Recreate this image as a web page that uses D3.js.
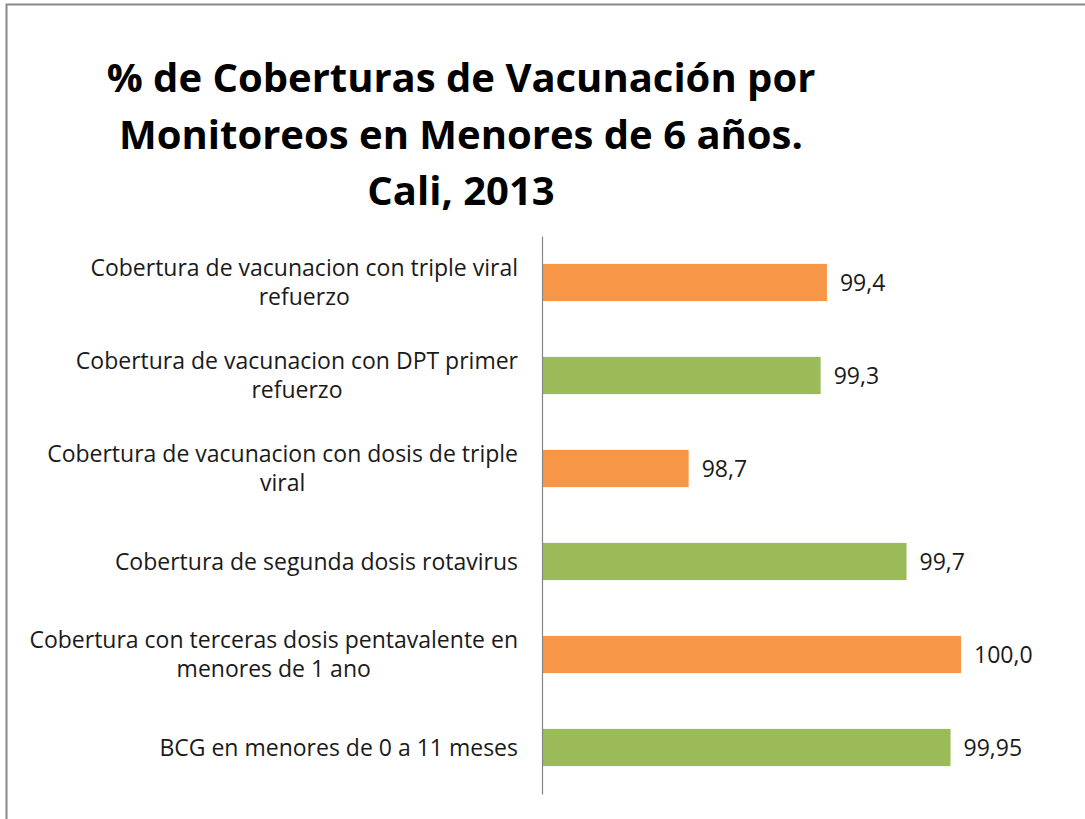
<!DOCTYPE html>
<html>
<head>
<meta charset="utf-8">
<script src="https://cdn.jsdelivr.net/npm/d3@7"></script>
<style>
  html, body { margin: 0; padding: 0; background: #fff; }
  svg { display: block; }
</style>
</head>
<body>
<div id="container"></div>
<script>
const categories = [
  "Cobertura de vacunacion con triple viral refuerzo",
  "Cobertura de vacunacion con DPT primer refuerzo",
  "Cobertura de vacunacion con dosis de triple viral",
  "Cobertura de segunda dosis rotavirus",
  "Cobertura con terceras dosis pentavalente en menores de 1 ano",
  "BCG en menores de 0 a 11 meses",
];
const values = [99.36, 99.33, 98.7, 99.74, 100.0, 99.95];
const valueLabels = ["99,4", "99,3", "98,7", "99,7", "100,0", "99,95"];
const barColors = ["#F79646", "#9BBB59", "#F79646", "#9BBB59", "#F79646", "#9BBB59"];
const titleLines = [
  "% de Coberturas de Vacunación por",
  "Monitoreos en Menores de 6 años.",
  "Cali, 2013",
];

const width = 1085;
const height = 819;
const margin = { top: 236, right: 82, bottom: 25, left: 542 };

const svg = d3.select("#container").append("svg")
  .attr("width", width)
  .attr("height", height);

// chart border (only top and left are visible in the frame)
svg.append("rect")
  .attr("x", 6.5)
  .attr("y", 4.5)
  .attr("width", width + 20)
  .attr("height", height + 20)
  .attr("fill", "none")
  .attr("stroke", "#888")
  .attr("stroke-width", 2);

// title
svg.append("g")
  .selectAll("text")
  .data(titleLines)
  .join("text")
  .attr("x", 461)
  .attr("y", (d, i) => 92 + i * 56.5)
  .attr("text-anchor", "middle")
  .attr("font-family", "'Open Sans', sans-serif")
  .attr("font-weight", 700)
  .attr("font-size", 40)
  .attr("fill", "#000")
  .text((d) => d);

const x = d3.scaleLinear()
  .domain([98, 100.2])
  .range([margin.left, margin.left + 2.2 * 209.5]);

const y = d3.scaleBand()
  .domain(categories)
  .range([margin.top, height - margin.bottom])
  .paddingInner(0.6)
  .paddingOuter(0.3);

const labelFont = "'Open Sans', sans-serif";
const labelSize = 23;

// bars
svg.append("g")
  .selectAll("rect")
  .data(categories)
  .join("rect")
  .attr("x", x(98))
  .attr("y", (d) => y(d))
  .attr("width", (d, i) => x(values[i]) - x(98))
  .attr("height", y.bandwidth())
  .attr("fill", (d, i) => barColors[i]);

// value labels
svg.append("g")
  .selectAll("text")
  .data(categories)
  .join("text")
  .attr("x", (d, i) => x(values[i]) + 13)
  .attr("y", (d) => y(d) + y.bandwidth() / 2)
  .attr("dy", "0.35em")
  .attr("font-family", labelFont)
  .attr("font-size", labelSize)
  .attr("fill", "#1a1a1a")
  .text((d, i) => valueLabels[i]);

// vertical axis line with wrapped category labels
const yAxis = d3.axisLeft(y).tickSize(0).tickPadding(24);
const axisG = svg.append("g")
  .attr("transform", `translate(${margin.left},0)`)
  .call(yAxis);
axisG.select(".domain")
  .attr("stroke", "#868686")
  .attr("stroke-width", 1.2);

axisG.selectAll(".tick text")
  .attr("font-family", labelFont)
  .attr("font-size", labelSize)
  .attr("fill", "#1a1a1a")
  .call(wrap, 505);

function wrap(texts, maxWidth) {
  texts.each(function () {
    const text = d3.select(this);
    const words = text.text().split(/\s+/);
    text.text(null);
    const lines = [];
    let line = [];
    const probe = text.append("tspan");
    words.forEach((w) => {
      line.push(w);
      probe.text(line.join(" "));
      if (probe.node().getComputedTextLength() > maxWidth && line.length > 1) {
        line.pop();
        lines.push(line.join(" "));
        line = [w];
      }
    });
    lines.push(line.join(" "));
    probe.remove();
    const lh = 29.5;
    const widths = lines.map((l) => {
      const t = text.append("tspan").text(l);
      const wdt = t.node().getComputedTextLength();
      t.remove();
      return wdt;
    });
    const blockW = d3.max(widths);
    const tx = +text.attr("x");
    text.attr("text-anchor", "middle");
    lines.forEach((l, i) => {
      text.append("tspan")
        .attr("x", tx - blockW / 2)
        .attr("y", (i - (lines.length - 1) / 2) * lh)
        .attr("dy", "0.35em")
        .text(l);
    });
    text.attr("dy", null);
  });
}
</script>
</body>
</html>
